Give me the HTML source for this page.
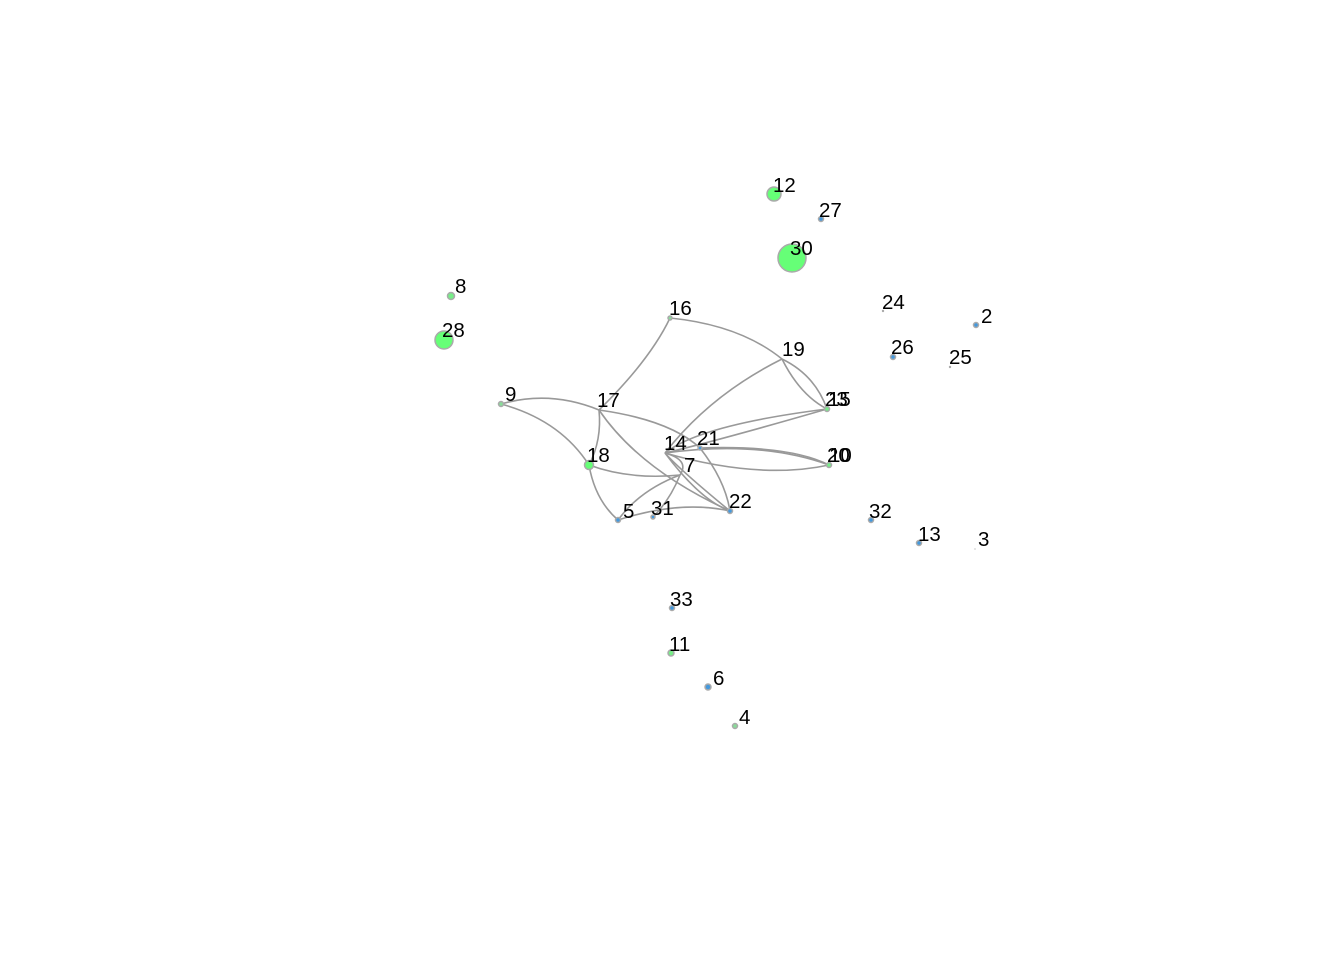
<!DOCTYPE html>
<html><head><style>body{margin:0;background:#fff}svg{display:block}text{font-family:"Liberation Sans",sans-serif;font-size:20.5px;fill:#000}</style></head><body>
<svg width="1344" height="960" viewBox="0 0 1344 960">
<g fill="none" stroke="#999" stroke-width="1.6">
<path d="M670,318 Q650,360 599,410"/>
<path d="M670,318 Q740,325 782,359"/>
<path d="M782,359 Q800,395 827,409"/>
<path d="M782,359 Q815,375 827,409"/>
<path d="M782,359 Q710,395 665,453"/>
<path d="M501,404 Q550,390 599,410"/>
<path d="M501,404 Q560,420 589,465"/>
<path d="M599,410 Q602,440 589,465"/>
<path d="M599,410 Q670,420 700,448"/>
<path d="M599,410 Q640,470 730,511"/>
<path d="M665,453 Q700,425 827,409"/>
<path d="M665,453 Q720,440 827,409"/>
<path d="M665,453 Q760,440 829,465"/>
<path d="M665,453 Q760,480 829,465"/>
<path d="M700,448 Q790,445 829,465"/>
<path d="M589,465 Q630,480 680,475"/>
<path d="M589,465 Q595,500 618,520"/>
<path d="M680,475 Q640,490 618,520"/>
<path d="M680,475 Q670,500 653,517"/>
<path d="M665,453 Q680,470 730,511"/>
<path d="M665,453 Q700,500 730,511"/>
<path d="M665,453 Q690,460 680,475"/>
<path d="M700,448 Q725,480 730,511"/>
<path d="M618,520 Q680,500 730,511"/>
</g>
<g stroke="#aaa" stroke-width="1.5">
<circle cx="774" cy="194" r="7" fill="#66ff77"/>
<circle cx="792" cy="258" r="14" fill="#66ff77"/>
<circle cx="444" cy="340" r="9" fill="#66ff77"/>
<circle cx="451" cy="296" r="3.5" fill="#77ee88"/>
<circle cx="589" cy="465" r="4.5" fill="#66ff77"/>
<circle cx="501" cy="404" r="2.5" fill="#88dd99"/>
<circle cx="670" cy="318" r="2" fill="#88dd99"/>
<circle cx="827" cy="409" r="2.5" fill="#77ee88"/>
<circle cx="829" cy="465" r="2.5" fill="#77ee88"/>
<circle cx="671" cy="653" r="3" fill="#77ee88"/>
<circle cx="735" cy="726" r="2.5" fill="#88dd99"/>
<circle cx="821" cy="219" r="2.5" fill="#4499dd"/>
<circle cx="976" cy="325" r="2.5" fill="#4499dd"/>
<circle cx="893" cy="357" r="2.5" fill="#4499dd"/>
<circle cx="700" cy="448" r="2" fill="#4499dd"/>
<circle cx="730" cy="511" r="2.5" fill="#4499dd"/>
<circle cx="618" cy="520" r="2.5" fill="#4499dd"/>
<circle cx="653" cy="517" r="2" fill="#4499dd"/>
<circle cx="871" cy="520" r="2.5" fill="#4499dd"/>
<circle cx="919" cy="543" r="2.5" fill="#4499dd"/>
<circle cx="672" cy="608" r="2.5" fill="#4499dd"/>
<circle cx="708" cy="687" r="3" fill="#4499dd"/>
</g>
<circle cx="883" cy="311" r="1.2" fill="#aaa"/>
<circle cx="950" cy="367" r="1.2" fill="#aaa"/>
<circle cx="975" cy="549" r="1" fill="#ddd"/>
<text x="773" y="192">12</text>
<text x="819" y="217">27</text>
<text x="790" y="255">30</text>
<text x="882" y="309">24</text>
<text x="981" y="323">2</text>
<text x="891" y="354">26</text>
<text x="949" y="364">25</text>
<text x="455" y="293">8</text>
<text x="442" y="337">28</text>
<text x="669" y="315">16</text>
<text x="782" y="356">19</text>
<text x="505" y="401">9</text>
<text x="597" y="407">17</text>
<text x="825" y="406">23</text>
<text x="828" y="406">15</text>
<text x="664" y="450">14</text>
<text x="697" y="445">21</text>
<text x="587" y="462">18</text>
<text x="684" y="472">7</text>
<text x="827" y="462">20</text>
<text x="829" y="462">10</text>
<text x="729" y="508">22</text>
<text x="623" y="518">5</text>
<text x="651" y="515">31</text>
<text x="869" y="518">32</text>
<text x="918" y="541">13</text>
<text x="978" y="546">3</text>
<text x="670" y="606">33</text>
<text x="669" y="651">11</text>
<text x="713" y="685">6</text>
<text x="739" y="724">4</text>
</svg>
</body></html>
